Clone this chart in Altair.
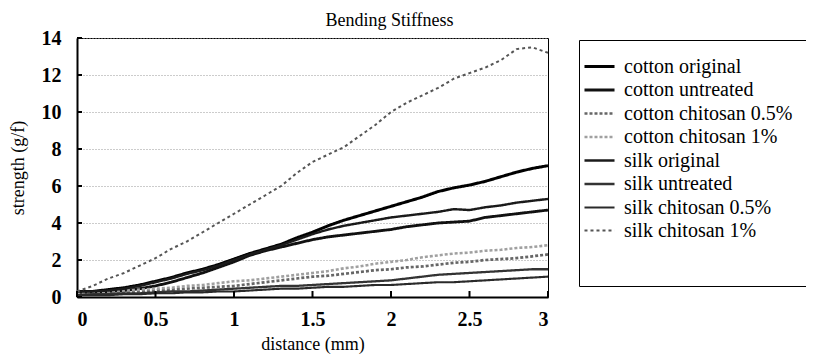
import altair as alt
import pandas as pd

distance = [0.0, 0.1, 0.2, 0.3, 0.4, 0.5, 0.6, 0.7, 0.8, 0.9, 1.0,
            1.1, 1.2, 1.3, 1.4, 1.5, 1.6, 1.7, 1.8, 1.9, 2.0,
            2.1, 2.2, 2.3, 2.4, 2.5, 2.6, 2.7, 2.8, 2.9, 3.0]

series_names = ["cotton original", "cotton untreated", "cotton chitosan 0.5%",
                "cotton chitosan 1%", "silk original", "silk untreated",
                "silk chitosan 0.5%", "silk chitosan 1%"]

cotton_original = [0.3, 0.3, 0.4, 0.5, 0.65, 0.85, 1.05, 1.3, 1.5, 1.75, 2.05,
                   2.35, 2.6, 2.85, 3.2, 3.5, 3.85, 4.15, 4.4, 4.65, 4.9,
                   5.15, 5.4, 5.7, 5.9, 6.05, 6.25, 6.5, 6.75, 6.95, 7.1]
cotton_untreated = [0.25, 0.25, 0.3, 0.35, 0.45, 0.6, 0.8, 1.05, 1.3, 1.6, 1.9,
                    2.25, 2.5, 2.7, 2.9, 3.1, 3.25, 3.35, 3.45, 3.55, 3.65,
                    3.8, 3.9, 4.0, 4.05, 4.1, 4.3, 4.4, 4.5, 4.6, 4.7]
cotton_chitosan_05 = [0.15, 0.2, 0.2, 0.25, 0.3, 0.35, 0.4, 0.45, 0.5, 0.55, 0.6,
                      0.7, 0.8, 0.9, 1.0, 1.1, 1.15, 1.25, 1.35, 1.45, 1.5,
                      1.6, 1.65, 1.75, 1.85, 1.9, 2.0, 2.05, 2.1, 2.2, 2.3]
cotton_chitosan_1 = [0.2, 0.25, 0.3, 0.35, 0.4, 0.45, 0.5, 0.6, 0.65, 0.75, 0.85,
                     0.9, 1.0, 1.1, 1.2, 1.3, 1.4, 1.55, 1.65, 1.8, 1.9,
                     2.0, 2.15, 2.25, 2.35, 2.4, 2.5, 2.55, 2.65, 2.7, 2.8]
silk_original = [0.3, 0.3, 0.35, 0.45, 0.6, 0.8, 1.0, 1.25, 1.45, 1.7, 2.0,
                 2.3, 2.55, 2.8, 3.1, 3.4, 3.65, 3.85, 4.0, 4.15, 4.3,
                 4.4, 4.5, 4.6, 4.75, 4.7, 4.85, 4.95, 5.1, 5.2, 5.3]
silk_untreated = [0.1, 0.15, 0.15, 0.2, 0.2, 0.25, 0.3, 0.3, 0.35, 0.4, 0.45,
                  0.5, 0.55, 0.6, 0.6, 0.65, 0.7, 0.75, 0.8, 0.85, 0.9,
                  1.0, 1.1, 1.2, 1.25, 1.3, 1.35, 1.4, 1.45, 1.5, 1.5]
silk_chitosan_05 = [0.1, 0.1, 0.1, 0.15, 0.15, 0.2, 0.2, 0.25, 0.25, 0.3, 0.3,
                    0.35, 0.4, 0.45, 0.45, 0.5, 0.55, 0.55, 0.6, 0.65, 0.65,
                    0.7, 0.75, 0.8, 0.8, 0.85, 0.9, 0.95, 1.0, 1.05, 1.1]
silk_chitosan_1 = [0.3, 0.6, 1.0, 1.3, 1.7, 2.1, 2.6, 3.0, 3.5, 4.0, 4.5,
                   5.0, 5.5, 6.0, 6.7, 7.3, 7.7, 8.1, 8.7, 9.3, 10.0,
                   10.5, 10.9, 11.3, 11.8, 12.1, 12.4, 12.8, 13.4, 13.5, 13.2]

all_series = [cotton_original, cotton_untreated, cotton_chitosan_05, cotton_chitosan_1,
              silk_original, silk_untreated, silk_chitosan_05, silk_chitosan_1]

x_ticks = [0, 0.5, 1, 1.5, 2, 2.5, 3]
y_ticks = [0, 2, 4, 6, 8, 10, 12, 14]

rows = []
for name, vals in zip(series_names, all_series):
    for d, v in zip(distance, vals):
        rows.append({"distance": d, "strength": v, "series": name})
df = pd.DataFrame(rows)

colors = ["#000000", "#111111", "#666666", "#a0a0a0", "#1a1a1a", "#333333", "#2a2a2a", "#555555"]
widths = [3.0, 2.0, 2.0, 1.5, 3.0, 2.2, 2.2, 1.5]
dashes = [[1, 0], [1, 0], [3, 2], [3, 2], [1, 0], [1, 0], [1, 0], [3, 3]]

SERIF = "Liberation Serif"

x_scale = alt.Scale(domain=[0, 3], nice=False)
y_scale = alt.Scale(domain=[0, 14], nice=False)
x_axis = alt.Axis(values=x_ticks, format="~g", grid=False)
y_axis = alt.Axis(values=y_ticks, format="~g")

legend = alt.Legend(
    title=" ", titleOrient="bottom", titleFontSize=20, titlePadding=11,
    orient="none", legendX=502, legendY=2,
    symbolType="M-1.91,0H0.82", symbolSize=484, labelFont=SERIF, labelFontSize=20,
    labelColor="black", labelLimit=400, strokeColor="black", padding=14, labelOffset=6,
    rowPadding=0.5, symbolStrokeColor="black",
)

lines = alt.Chart(df).mark_line().encode(
    x=alt.X("distance:Q", title="distance (mm)", scale=x_scale, axis=x_axis),
    y=alt.Y("strength:Q", title="strength (g/f)", scale=y_scale, axis=y_axis),
    color=alt.Color("series:N", scale=alt.Scale(domain=series_names, range=colors), legend=legend),
    strokeWidth=alt.StrokeWidth("series:N", scale=alt.Scale(domain=series_names, range=widths), legend=legend),
    strokeDash=alt.StrokeDash("series:N", scale=alt.Scale(domain=series_names, range=dashes), legend=legend),
    detail="series:N",
)

xtick_df = pd.DataFrame({"distance": x_ticks})
ytick_df = pd.DataFrame({"strength": y_ticks})

x_tick_marks = alt.Chart(xtick_df).mark_rule(color="black", strokeWidth=2).encode(
    x=alt.X("distance:Q", title="distance (mm)", scale=x_scale, axis=x_axis),
    y=alt.value(259), y2=alt.value(253),
)
y_tick_marks = alt.Chart(ytick_df).mark_rule(color="black", strokeWidth=2).encode(
    y=alt.Y("strength:Q", title="strength (g/f)", scale=y_scale, axis=y_axis),
    x=alt.value(0), x2=alt.value(5),
)

chart = alt.layer(lines, x_tick_marks, y_tick_marks).properties(
    width=471, height=259,
    autosize=alt.AutoSizeParams(type="none"),
    padding={"left": 69, "top": 30, "right": 258, "bottom": 58},
    title=alt.TitleParams("Bending Stiffness", font=SERIF, fontSize=18, fontWeight="normal",
                          color="black", dx=77, dy=2, offset=0),
).configure_view(
    stroke="black", strokeWidth=1
).configure_axis(
    labelFont=SERIF, labelFontSize=20, labelFontWeight="bold", labelColor="black",
    titleFont=SERIF, titleFontSize=18, titleFontWeight="normal", titleColor="black",
    domainColor="black", domainWidth=2, tickSize=0,
    gridColor="#999999", gridDash=[1, 2], gridWidth=1,
).configure_axisX(
    labelPadding=12, titlePadding=6
).configure_axisY(
    labelPadding=16, titlePadding=14
)

chart.save("out.html", embed_options={"renderer": "svg", "actions": False})
